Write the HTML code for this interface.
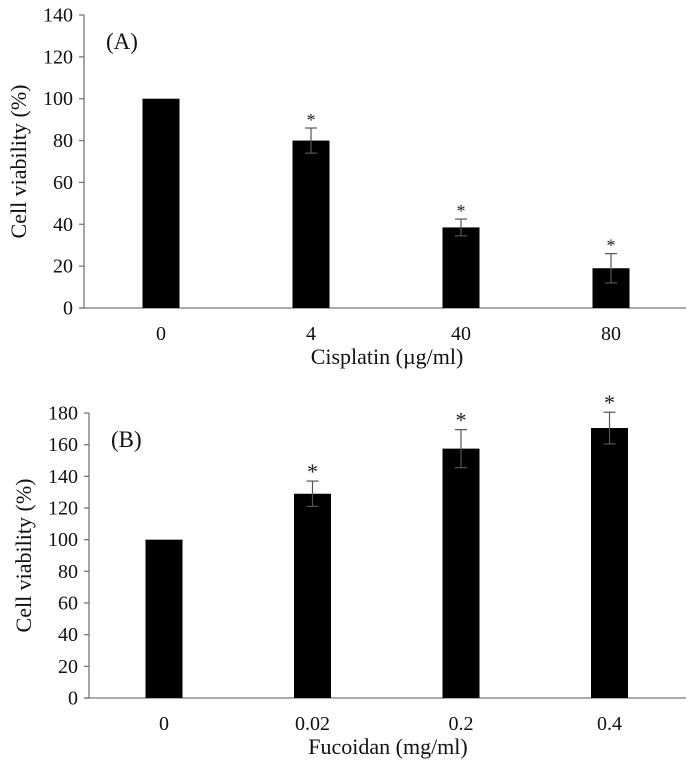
<!DOCTYPE html>
<html><head><meta charset="utf-8"><style>
html,body{margin:0;padding:0;background:#fff;}
svg{display:block;font-family:"Liberation Serif",serif;}
</style></head><body>
<svg id="chart" width="699" height="765"></svg>
<script>
const catsA=["0","4","40","80"];
const valsA=[100,80,38.5,19];
const errA=[0,6,4,7];
const starA=[false,true,true,true];
const ticksA=[0,20,40,60,80,100,120,140];
const catsB=["0","0.02","0.2","0.4"];
const valsB=[100,129,157.5,170.5];
const errB=[0,8,12,10];
const starB=[false,true,true,true];
const ticksB=[0,20,40,60,80,100,120,140,160,180];
const NS="http://www.w3.org/2000/svg";
const svg=document.getElementById('chart');
function mk(tag,attrs,parent){const e=document.createElementNS(NS,tag);for(const k in attrs)e.setAttribute(k,attrs[k]);(parent||svg).appendChild(e);return e;}
function panel(cfg){
  const g=mk('g',{});
  
  
  const y=v=>cfg.y0-(v/cfg.max)*(cfg.y0-cfg.yTop);
  const x=i=>cfg.x0+i*cfg.step;
  const ax=mk('line',{x1:cfg.ax,y1:cfg.yTop,x2:cfg.ax,y2:cfg.y0,stroke:'#777','stroke-width':1.3},g);
  
  
  const xa=mk('line',{x1:cfg.ax-4,y1:cfg.y0,x2:cfg.xEnd,y2:cfg.y0,stroke:'#777','stroke-width':1.3},g);
  
  
  cfg.ticks.forEach(t=>{
    mk('line',{x1:cfg.ax-5,y1:y(t),x2:cfg.ax,y2:y(t),stroke:'#777','stroke-width':1.3},g);
    const tl=mk('text',{x:cfg.ax-11,y:y(t)+6.5,'text-anchor':'end','font-size':20,fill:'#111'},g);
    tl.textContent=t;
    
    
  });
  cfg.cats.forEach((c,i)=>{
    const cx=x(i),v=cfg.vals[i];
    const b=mk('rect',{x:cx-18.5,y:y(v),width:37,height:cfg.y0-y(v),fill:'#000'},g);
    
    
    if(cfg.err[i]>0){
      const e=cfg.err[i];
      mk('line',{x1:cx,y1:y(v+e),x2:cx,y2:y(v-e),stroke:'#555','stroke-width':1.2},g);
      mk('line',{x1:cx-6,y1:y(v+e),x2:cx+6,y2:y(v+e),stroke:'#555','stroke-width':1.2},g);
      mk('line',{x1:cx-6,y1:y(v-e),x2:cx+6,y2:y(v-e),stroke:'#555','stroke-width':1.2},g);
    }
    if(cfg.star[i]){
      const s=mk('text',{x:cx,y:y(v+cfg.err[i])-2,'text-anchor':'middle','font-size':cfg.starSize,fill:'#222'},g);
      s.textContent='*';
      
      
    }
    const xl=mk('text',{x:cx,y:cfg.y0+32,'text-anchor':'middle','font-size':20,fill:'#111'},g);
    xl.textContent=c;
    
    
  });
  const xt=mk('text',{x:cfg.xtX,y:cfg.y0+56,'text-anchor':'middle','font-size':22,fill:'#111'},g);
  xt.textContent=cfg.xtitle;
  
  
  const cy=(cfg.yTop+cfg.y0)/2;
  const yt=mk('text',{x:0,y:0,'text-anchor':'middle','font-size':22,fill:'#111',transform:`translate(${cfg.ytX},${cy}) rotate(-90)`},g);
  yt.textContent='Cell viability (%)';
  
  
  const pl=mk('text',{x:cfg.ax+22,y:cfg.yTop+34,'font-size':23,fill:'#111'},g);
  pl.textContent=cfg.label;
  
  
}
panel({name:'panel-a',cats:catsA,vals:valsA,err:errA,star:starA,ticks:ticksA,max:140,ax:84,y0:308,yTop:15,x0:161,step:150,xEnd:686,xtitle:'Cisplatin (µg/ml)',xtX:387,ytX:26,label:'(A)',starSize:18});
panel({name:'panel-b',cats:catsB,vals:valsB,err:errB,star:starB,ticks:ticksB,max:180,ax:89,y0:698,yTop:413,x0:164,step:148.5,xEnd:686,xtitle:'Fucoidan (mg/ml)',xtX:388,ytX:31,label:'(B)',starSize:22});
</script>
</body></html>
